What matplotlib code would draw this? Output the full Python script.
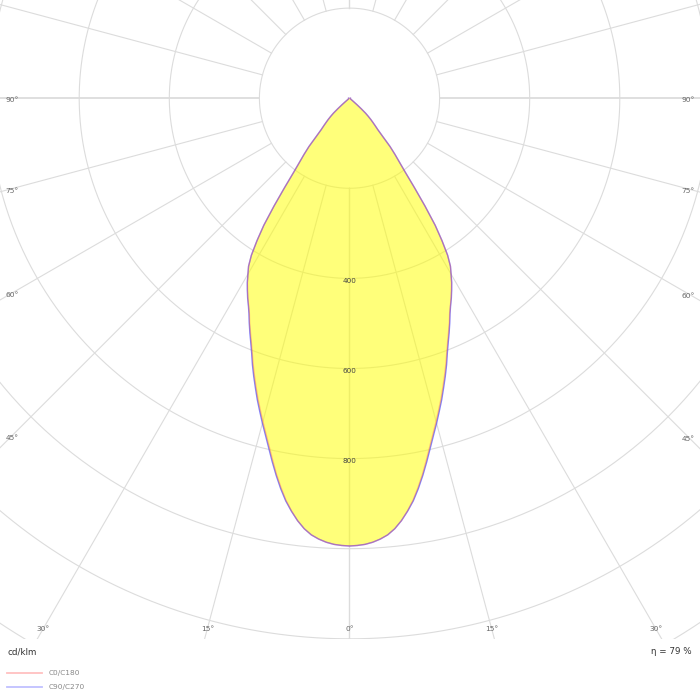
import numpy as np
import matplotlib
matplotlib.use("Agg")
import matplotlib.pyplot as plt
from matplotlib.lines import Line2D

# ---- data (cd/klm) ----
gamma = list(range(0, 51)) + [52, 55, 60, 65, 70, 75, 80, 85, 90]
c90_c270 = [994, 993, 991, 987, 981, 973, 961, 945, 926, 905,
            880, 853, 825, 797, 771, 747, 723, 700, 676, 653,
            630, 606, 585, 566, 547, 528, 512, 498, 483, 468,
            451, 435, 411, 377, 340, 292, 245, 206, 180, 160,
            140, 112, 94, 84, 75, 67, 58, 49, 35, 22,
            12, 5, 3, 2, 2, 2, 2, 2, 2, 2]
c0_c180 = [994, 993, 991, 987, 981, 973, 961, 945, 925, 903,
           877, 850, 821, 793, 767, 743, 719, 696, 672, 649,
           626, 603, 582, 563, 545, 526, 511, 497, 482, 467,
           451, 435, 411, 377, 340, 292, 245, 206, 180, 160,
           140, 112, 94, 84, 75, 67, 58, 49, 35, 22,
           12, 5, 3, 2, 2, 2, 2, 2, 2, 2]
ring_values = [200, 400, 600, 800, 1000, 1200, 1400, 1600]
ring_labels = [400, 600, 800]
angle_labels = [0, 15, 30, 45, 60, 75, 90]
spoke_angles = list(range(0, 360, 15))
legend_names = ["C0/C180", "C90/C270"]
efficiency = 79

# ---- geometry ----
k = 0.4505            # px per cd/klm
cx, cy = 349.5, 98.2  # centre in px
W, H = 700, 700
bottom_px = 639.3

fig = plt.figure(figsize=(7, 7), dpi=100)
ax = fig.add_axes([0, 1 - bottom_px / H, 1, bottom_px / H])
ax.set_xlim(-cx / k, (W - cx) / k)
ax.set_ylim(-(bottom_px - cy) / k, cy / k)
ax.axis("off")

grid_col = "#dcdcdc"
t = np.linspace(0, 2 * np.pi, 721)
for r in ring_values:
    ax.plot(r * np.sin(t), -r * np.cos(t), color=grid_col, lw=0.8, zorder=1)
for a in spoke_angles:
    th = np.radians(a)
    lw = 1.3 if a in (90, 270) else (1.0 if a in (0, 180) else 0.8)
    ax.plot([200 * np.sin(th), 2500 * np.sin(th)],
            [-200 * np.cos(th), -2500 * np.cos(th)],
            color=grid_col, lw=lw, zorder=1)

def curve(vals):
    g = np.radians(np.array(gamma, dtype=float))
    v = np.array(vals, dtype=float)
    # right half (C0 / C90) then mirrored left half (C180 / C270)
    gg = np.concatenate([-g[::-1], g[1:]])
    vv = np.concatenate([v[::-1], v[1:]])
    return vv * np.sin(gg), -vv * np.cos(gg)

xb, yb = curve(c90_c270)
xr, yr = curve(c0_c180)
ax.fill(xb, yb, color="#ffff00", alpha=0.52, lw=0, zorder=2)
ax.plot(xb, yb, color="#5a5aff", alpha=0.75, lw=1.0, zorder=3)
ax.plot(xr, yr, color="#ff5a5a", alpha=0.35, lw=1.0, zorder=4)

# ring labels
for v in ring_labels:
    ax.text(0, -v - 2.5 / k, str(v), ha="center", va="center",
            fontsize=5.2, color="#444444", zorder=5)

# angle labels
yb_d = -(629 - cy) / k
xs_l = -(cx - 12) / k
xs_r = (688 - cx) / k
for a in angle_labels:
    th = np.radians(a)
    xb_d = abs(yb_d) * np.tan(th) if a < 90 else 1e9
    for sgn in ([1] if a == 0 else [-1, 1]):
        if xb_d <= abs(xs_l):
            ax.text(sgn * xb_d, yb_d, f"{a}°", ha="center", va="center",
                    fontsize=5.4, color="#666666")
        else:
            xs = xs_l if sgn < 0 else xs_r
            yy = -abs(xs) / np.tan(th) if a < 90 else 0.0
            ax.text(xs, yy - 2 / k, f"{a}°", ha="center", va="center",
                    fontsize=5.4, color="#666666")

# footer texts
fig.text(8 / W, 1 - 652 / H, "cd/klm", ha="left", va="center",
         fontsize=6.3, color="#333333")
fig.text(692 / W, 1 - 652 / H, f"η = {efficiency} %", ha="right", va="center",
         fontsize=6.3, color="#333333")

# legend
leg_cols = ["#ffc0c0", "#c0c0ff"]
for i, (name, col) in enumerate(zip(legend_names, leg_cols)):
    yy = 1 - (673.3 + 13.4 * i) / H
    fig.add_artist(Line2D([7.3 / W, 41.7 / W], [yy, yy], color=col, lw=1.3,
                          transform=fig.transFigure))
    fig.text(49 / W, yy, name, ha="left", va="center", fontsize=5.3,
             color="#888888")

fig.savefig("out.png", dpi=100)
